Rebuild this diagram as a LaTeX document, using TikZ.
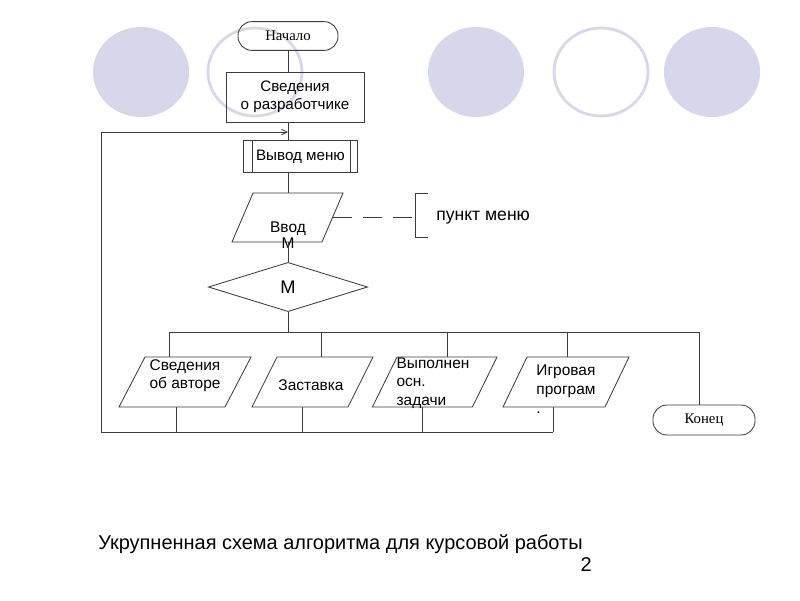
\documentclass[tikz,border=0pt]{standalone}
\usepackage{fontspec}
\setmainfont{Liberation Sans}
\newfontfamily\timesfont{Liberation Serif}
\usetikzlibrary{shapes.geometric,arrows.meta}
\definecolor{lavender}{RGB}{215,215,235}
\definecolor{linegray}{RGB}{60,60,60}

% parallelogram: name, x, y, half width, half slant, half height (in px)
\newcommand{\ioshape}[6]{%
    \draw[line] (#2-#4+#5,#3-#6) -- (#2+#4+#5,#3-#6) -- (#2+#4-#5,#3+#6) -- (#2-#4-#5,#3+#6) -- cycle;
    \node[inner sep=0pt, minimum width=2*#4*0.025cm, minimum height=2*#6*0.025cm] (#1) at (#2,#3) {};}

\begin{document}
\begin{tikzpicture}[x=0.025cm, y=-0.025cm,
    line/.style={line width=0.6pt, draw=linegray},
    term/.style={line, rounded corners=0.35cm, minimum height=0.72cm, inner sep=0pt, font=\timesfont\fontsize{10.5}{12}\selectfont},
    proc/.style={line, rectangle, inner sep=0pt, align=center, font=\fontsize{10.8}{13}\selectfont},
    txt/.style={inner sep=0pt, font=\fontsize{11}{13}\selectfont}]
    \fill[white] (0,0) rectangle (800,600);

    % Circles of the slide
    \foreach \cx in {141,476,712} {
        \fill[lavender] (\cx,72) ellipse (48 and 45);
    }
    \foreach \cx in {255,601} {
        \draw[lavender, line width=2pt] (\cx,72) ellipse (47 and 44);
    }

    % Top of the scheme
    \node[term, minimum width=2.5cm] (start) at (288,36) {Начало};
    \node[proc, minimum width=3.45cm, minimum height=1.25cm] (dev) at (295,97) {Сведения\\о разработчике};
    \node[proc, minimum width=2.83cm, minimum height=0.78cm] (menu) at (300.5,156.5) {Вывод меню};
    \draw[line] ([xshift=9*0.025cm]menu.north west) -- ([xshift=9*0.025cm]menu.south west);
    \draw[line] ([xshift=-7*0.025cm]menu.north east) -- ([xshift=-7*0.025cm]menu.south east);
    \ioshape{input}{287.5}{217.5}{45}{10.5}{24.5}
    \node[txt, align=center, font=\fontsize{11}{11.5}\selectfont] (inputtxt) at (288,235) {Ввод\\М};
    \node[line, diamond, minimum width=3.98cm, minimum height=1.23cm, inner sep=0pt, font=\fontsize{13}{15}\selectfont] (choice) at (288,287) {М};

    % Comment to the input
    \coordinate (brk) at (415,217.5);
    \draw[line] (428,193) -- (415,193) -- (415,237) -- (428,237);
    \node[anchor=west, inner sep=0pt, font=\fontsize{12.5}{14}\selectfont] (item) at (436,218) {пункт меню};
    \draw[line, dash pattern=on 13.5pt off 8pt] (input.east) -- (brk);

    % Branches
    \ioshape{author}{185}{382}{53}{13}{25}
    \ioshape{splash}{312.5}{382}{48}{12.5}{25}
    \ioshape{task}{434.7}{382}{50}{12.3}{25}
    \ioshape{game}{566}{382}{51}{12}{25}
    \node[term, minimum width=2.55cm, minimum height=0.75cm] (end) at (704,420) {Конец};
    \node[txt, align=center] (authortxt) at (185,376) {Сведения\\об авторе};
    \node[txt] (splashtxt) at (311,385) {Заставка};
    \node[txt, align=left] (tasktxt) at (433,383) {Выполнен\\осн.\\задачи};
    \node[txt, align=left, font=\fontsize{11}{13.5}\selectfont] (gametxt) at (566,389) {Игровая\\програм\\.};

    % Connections
    \draw[line] (start.south) -- (start.south |- dev.north);
    \draw[line] (start.south |- dev.south) -- (start.south |- menu.north);
    \draw[line] (start.south |- menu.south) -- (start.south |- input.north);
    \draw[line] (start.south |- input.south) -- (choice.north);

    \coordinate (busL) at (169,332);
    \coordinate (busR) at (699,332);
    \draw[line] (choice.south) -- (choice.south |- busL);
    \draw[line] (busL |- author.north) -- (busL) -- (busR) -- (busR |- end.north);
    \foreach \n/\bx in {splash/321, task/447, game/567} {
        \draw[line] (\bx,332) -- (\bx,332 |- \n.north);
    }

    \coordinate (loopB) at (101,432);
    \coordinate (loopT) at (288,132);
    \foreach \n/\bx in {author/176, splash/302, task/422, game/553} {
        \draw[line] (\bx,432 |- \n.south) -- (\bx,432);
    }
    \draw[line, -{Straight Barb[length=4pt, width=4pt]}] (553,432) -- (loopB) |- (loopT);

    % Caption
    \node[anchor=west, inner sep=0pt, font=\fontsize{14.2}{16}\selectfont] (caption) at (98,544) {Укрупненная схема алгоритма для курсовой работы};
    \node[anchor=east, inner sep=0pt, font=\fontsize{14.2}{16}\selectfont] (page) at (592,565) {2};
\end{tikzpicture}
\end{document}
